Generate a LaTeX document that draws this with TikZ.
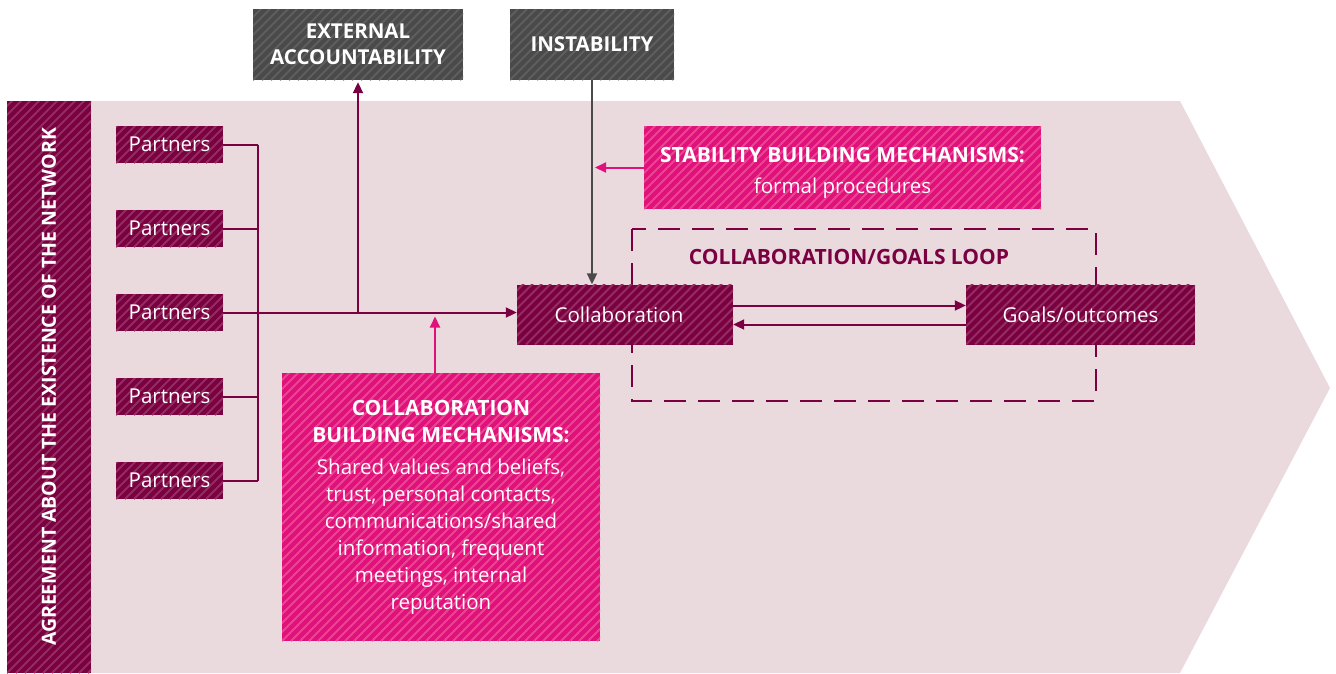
\documentclass[tikz,border=0pt]{standalone}
\usepackage{fontspec}
\setmainfont{Open Sans}
\usetikzlibrary{arrows.meta,positioning}

\definecolor{netbg}{HTML}{EADADE}
\definecolor{netmaroon}{HTML}{7B0041}
\definecolor{maroonstripe}{HTML}{932E5E}
\definecolor{netpink}{HTML}{E0117A}
\definecolor{pinkstripe}{HTML}{EA4592}
\definecolor{netgray}{HTML}{4A4A4A}
\definecolor{graystripe}{HTML}{5E5E5E}

\tikzset{
  hatch/.style={path picture={
      \foreach \k in {-70,...,45}
        \draw[#1,line width=2pt] ([xshift=\k*9pt]path picture bounding box.south west) -- ++(700pt,700pt);}},
  maroonbox/.style={fill=netmaroon, hatch=maroonstripe, text=white, inner sep=0pt,
    font=\fontsize{20.5}{24}\selectfont},
  graybox/.style={fill=netgray, hatch=graystripe, text=white, inner sep=0pt, align=center,
    font=\fontsize{20.5}{26}\selectfont\bfseries},
  pinkbox/.style={fill=netpink, hatch=pinkstripe, text=white, inner sep=0pt, align=center,
    font=\fontsize{20.5}{27}\selectfont},
  link/.style={draw=netmaroon, line width=2pt},
  maroonarrow/.style={link, -{Triangle[length=11pt,width=10pt]}},
  pinkarrow/.style={draw=netpink, line width=2pt, -{Triangle[length=11pt,width=10pt]}},
  grayarrow/.style={draw=netgray, line width=2pt, -{Triangle[length=11pt,width=10pt]}},
  loopframe/.style={draw=netmaroon, line width=2.5pt, dash pattern=on 22pt off 12pt}
}

\begin{document}
\begin{tikzpicture}[x=1pt,y=-1pt]
  \useasboundingbox (0,0) rectangle (1336,673);

  % Background arrow shape
  \fill[netbg] (7,101) -- (1180,101) -- (1330,388) -- (1180,673) -- (7,673) -- cycle;

  % Loop frame (behind the boxes)
  \draw[loopframe] (632,229) rectangle (1096,401);
  \node[text=netmaroon, font=\fontsize{21}{24}\selectfont\bfseries] (looplabel) at (849,257)
    {COLLABORATION/GOALS LOOP};

  % Left bar
  \node[maroonbox, minimum width=84pt, minimum height=572pt] (agree) at (49,387) {};
  \node[text=white, rotate=90, font=\fontsize{19.5}{22}\selectfont\bfseries] at (agree.center)
    {AGREEMENT ABOUT THE EXISTENCE OF THE NETWORK};

  % Outside factors
  \node[graybox, minimum width=210pt, minimum height=71pt] (extacc) at (358,44.5)
    {EXTERNAL\\ACCOUNTABILITY};
  \node[graybox, minimum width=164pt, minimum height=71pt] (instab) at (592,44.5)
    {INSTABILITY};

  % Partners
  \foreach \n/\y in {1/144.5,2/228.5,3/312.5,4/396.5,5/480.5}
    \node[maroonbox, minimum width=107pt, minimum height=37pt] (p\n) at (169.5,\y) {Partners};

  % Core boxes
  \node[maroonbox, minimum width=216pt, minimum height=60pt] (collab) at (625,314.5) {Collaboration\hspace*{12pt}};
  \node[maroonbox, minimum width=229pt, minimum height=60pt] (goals) at (1080.5,314.5) {Goals/outcomes};

  % Mechanisms
  \node[pinkbox, minimum width=397pt, minimum height=83pt, font=\fontsize{20.5}{31}\selectfont]
    (stab) at (842.5,167.5)
    {\rule{0pt}{26pt}\fontsize{21}{31}\selectfont\bfseries STABILITY BUILDING MECHANISMS:\\formal procedures};
  \node[pinkbox, minimum width=318pt, minimum height=268pt] (cbm) at (441,507)
    {{\fontsize{21}{27}\selectfont\bfseries COLLABORATION}\\{\fontsize{21}{27}\selectfont\bfseries BUILDING MECHANISMS:}\\[5pt]
     Shared values and beliefs,\\trust, personal contacts,\\communications/shared\\
     information, frequent\\meetings, internal\\reputation};

  % Partner bus
  \coordinate (bus) at (258,0);
  \draw[link] (p1.east -| bus) -- (p5.east -| bus);
  \foreach \n in {1,2,4,5}
    \draw[link] (p\n.east) -- (p\n.east -| bus);
  \draw[maroonarrow] (p3.east) -- (p3.east -| collab.west);

  % External accountability
  \coordinate (eafoot) at (358,312.5);
  \draw[maroonarrow, shorten >=2pt] (eafoot) -- (eafoot |- extacc.south);

  % Collaboration building mechanisms
  \coordinate (cbmtop) at (435,373);
  \draw[pinkarrow, shorten >=4pt] (cbmtop) -- (cbmtop |- p3.east);

  % Instability and stability
  \draw[grayarrow] (instab.south) -- (instab.south |- collab.north);
  \draw[pinkarrow, shorten >=3pt] (stab.west) -- (stab.west -| instab.south);

  % Collaboration/goals loop
  \draw[maroonarrow] ([yshift=9pt]collab.east) -- ([yshift=9pt]collab.east -| goals.west);
  \draw[maroonarrow] ([yshift=-10pt]goals.west) -- ([yshift=-10pt]goals.west -| collab.east);
\end{tikzpicture}
\end{document}
